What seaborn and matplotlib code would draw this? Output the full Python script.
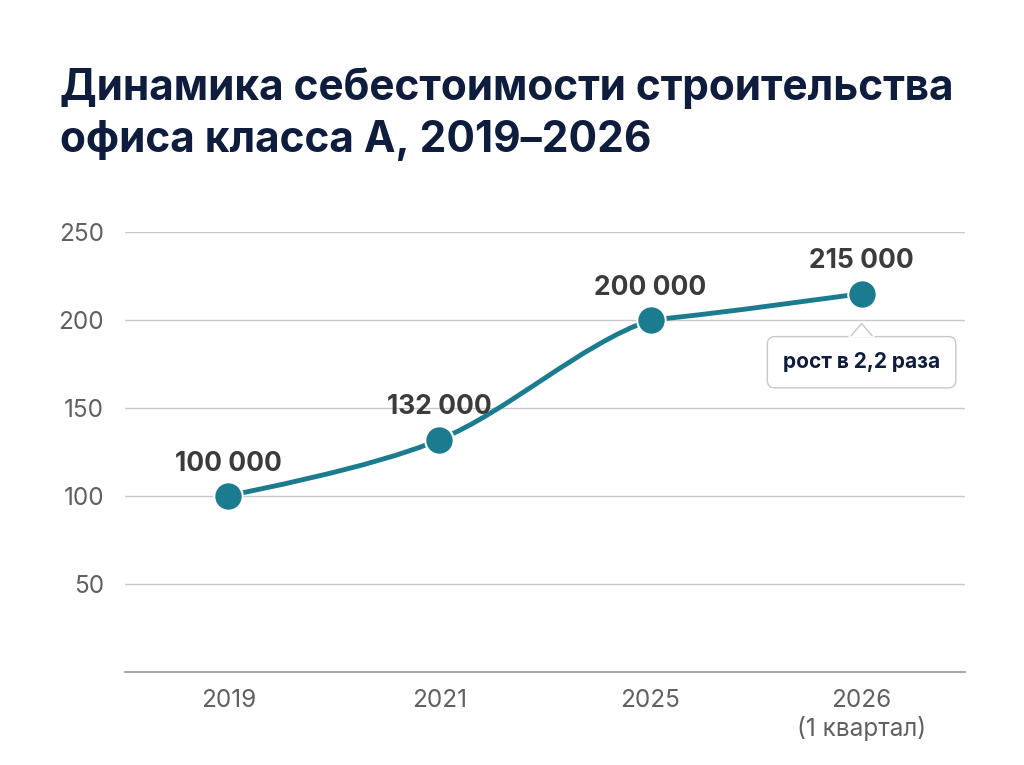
import matplotlib.pyplot as plt
import seaborn as sns
import numpy as np
import pandas as pd
from matplotlib.path import Path
from matplotlib.patches import PathPatch

years = ["2019", "2021", "2025", "2026\n(1 квартал)"]
values = [100, 132, 200, 215]
labels = ["100 000", "132 000", "200 000", "215 000"]
yticks = [50, 100, 150, 200, 250]

sns.set_theme(style="white")
plt.rcParams['font.family'] = ['Inter', 'DejaVu Sans']

teal = "#1b7b8f"
navy = "#0e1c3d"
gray = "#606060"

fig = plt.figure(figsize=(10.24, 7.65), dpi=100)
ax = fig.add_axes([125/1024, 1-672/765, 840/1024, 440/765])

df = pd.DataFrame({"x": range(len(years)), "y": values})

# smooth curve through points (Catmull-Rom as cubic bezier, end segments flatter)
xs, ys = df["x"].to_numpy(float), df["y"].to_numpy(float)
verts = [(xs[0], ys[0])]
codes = [Path.MOVETO]
n = len(xs)
for i in range(n - 1):
    p0 = np.array([xs[max(i-1, 0)], ys[max(i-1, 0)]])
    p1 = np.array([xs[i], ys[i]])
    p2 = np.array([xs[i+1], ys[i+1]])
    p3 = np.array([xs[min(i+2, n-1)], ys[min(i+2, n-1)]])
    k1 = 6 if i > 0 else 12
    k2 = 6 if i + 2 < n else 12
    c1 = p1 + (p2 - p0) / k1
    c2 = p2 - (p3 - p1) / k2
    if i + 2 >= n:
        c1 = p1 + np.array([(p2 - p1)[0] / 3, (p2 - p1)[1] / 4])
    verts += [tuple(c1), tuple(c2), tuple(p2)]
    codes += [Path.CURVE4] * 3
ax.add_patch(PathPatch(Path(verts, codes), fill=False, edgecolor=teal, lw=3.5, zorder=3))

sns.scatterplot(data=df, x="x", y="y", s=420, color=teal, edgecolor="white",
                linewidth=1.5, zorder=4, ax=ax, legend=False)

for x, y, t in zip(xs, ys, labels):
    ax.text(x, y + 11, t, ha="center", va="bottom", fontsize=19, fontweight="bold", color="#3b3b3b")

# callout
ax.text(3, 176, "рост в 2,2 раза", ha="center", va="center", fontsize=15, fontweight="bold",
        color=navy, zorder=5,
        bbox=dict(boxstyle="round,pad=0.75,rounding_size=0.35", fc="white", ec="#c8c8c8", lw=1))
ax.fill([2.94, 3.0, 3.06], [190.5, 198, 190.5], color="white", zorder=6)
ax.plot([2.95, 3.0, 3.05], [191, 198, 191], color="#c8c8c8", lw=1, zorder=7)

ax.set_xlim(-0.49, 3.49)
ax.set_ylim(0, 250)
ax.set_yticks(yticks)
ax.set_xticks(range(len(years)))
ax.set_xticklabels(years)
ax.set_xlabel("")
ax.set_ylabel("")
ax.grid(axis="y", color="#c9c9c9", lw=1)
ax.set_axisbelow(True)
for s in ["top", "right", "left"]:
    ax.spines[s].set_visible(False)
ax.spines["bottom"].set_color("#9a9a9a")
ax.tick_params(axis="both", length=0, labelsize=17.5, colors=gray)
ax.tick_params(axis="y", pad=15)
ax.tick_params(axis="x", pad=12)

fig.text(60/1024, 1-100/765, "Динамика себестоимости строительства", fontsize=30.5,
         fontweight="bold", color=navy, ha="left", va="baseline")
fig.text(60/1024, 1-152/765, "офиса класса А, 2019–2026", fontsize=30.5,
         fontweight="bold", color=navy, ha="left", va="baseline")

fig.savefig("out.png", dpi=100, facecolor="white")
